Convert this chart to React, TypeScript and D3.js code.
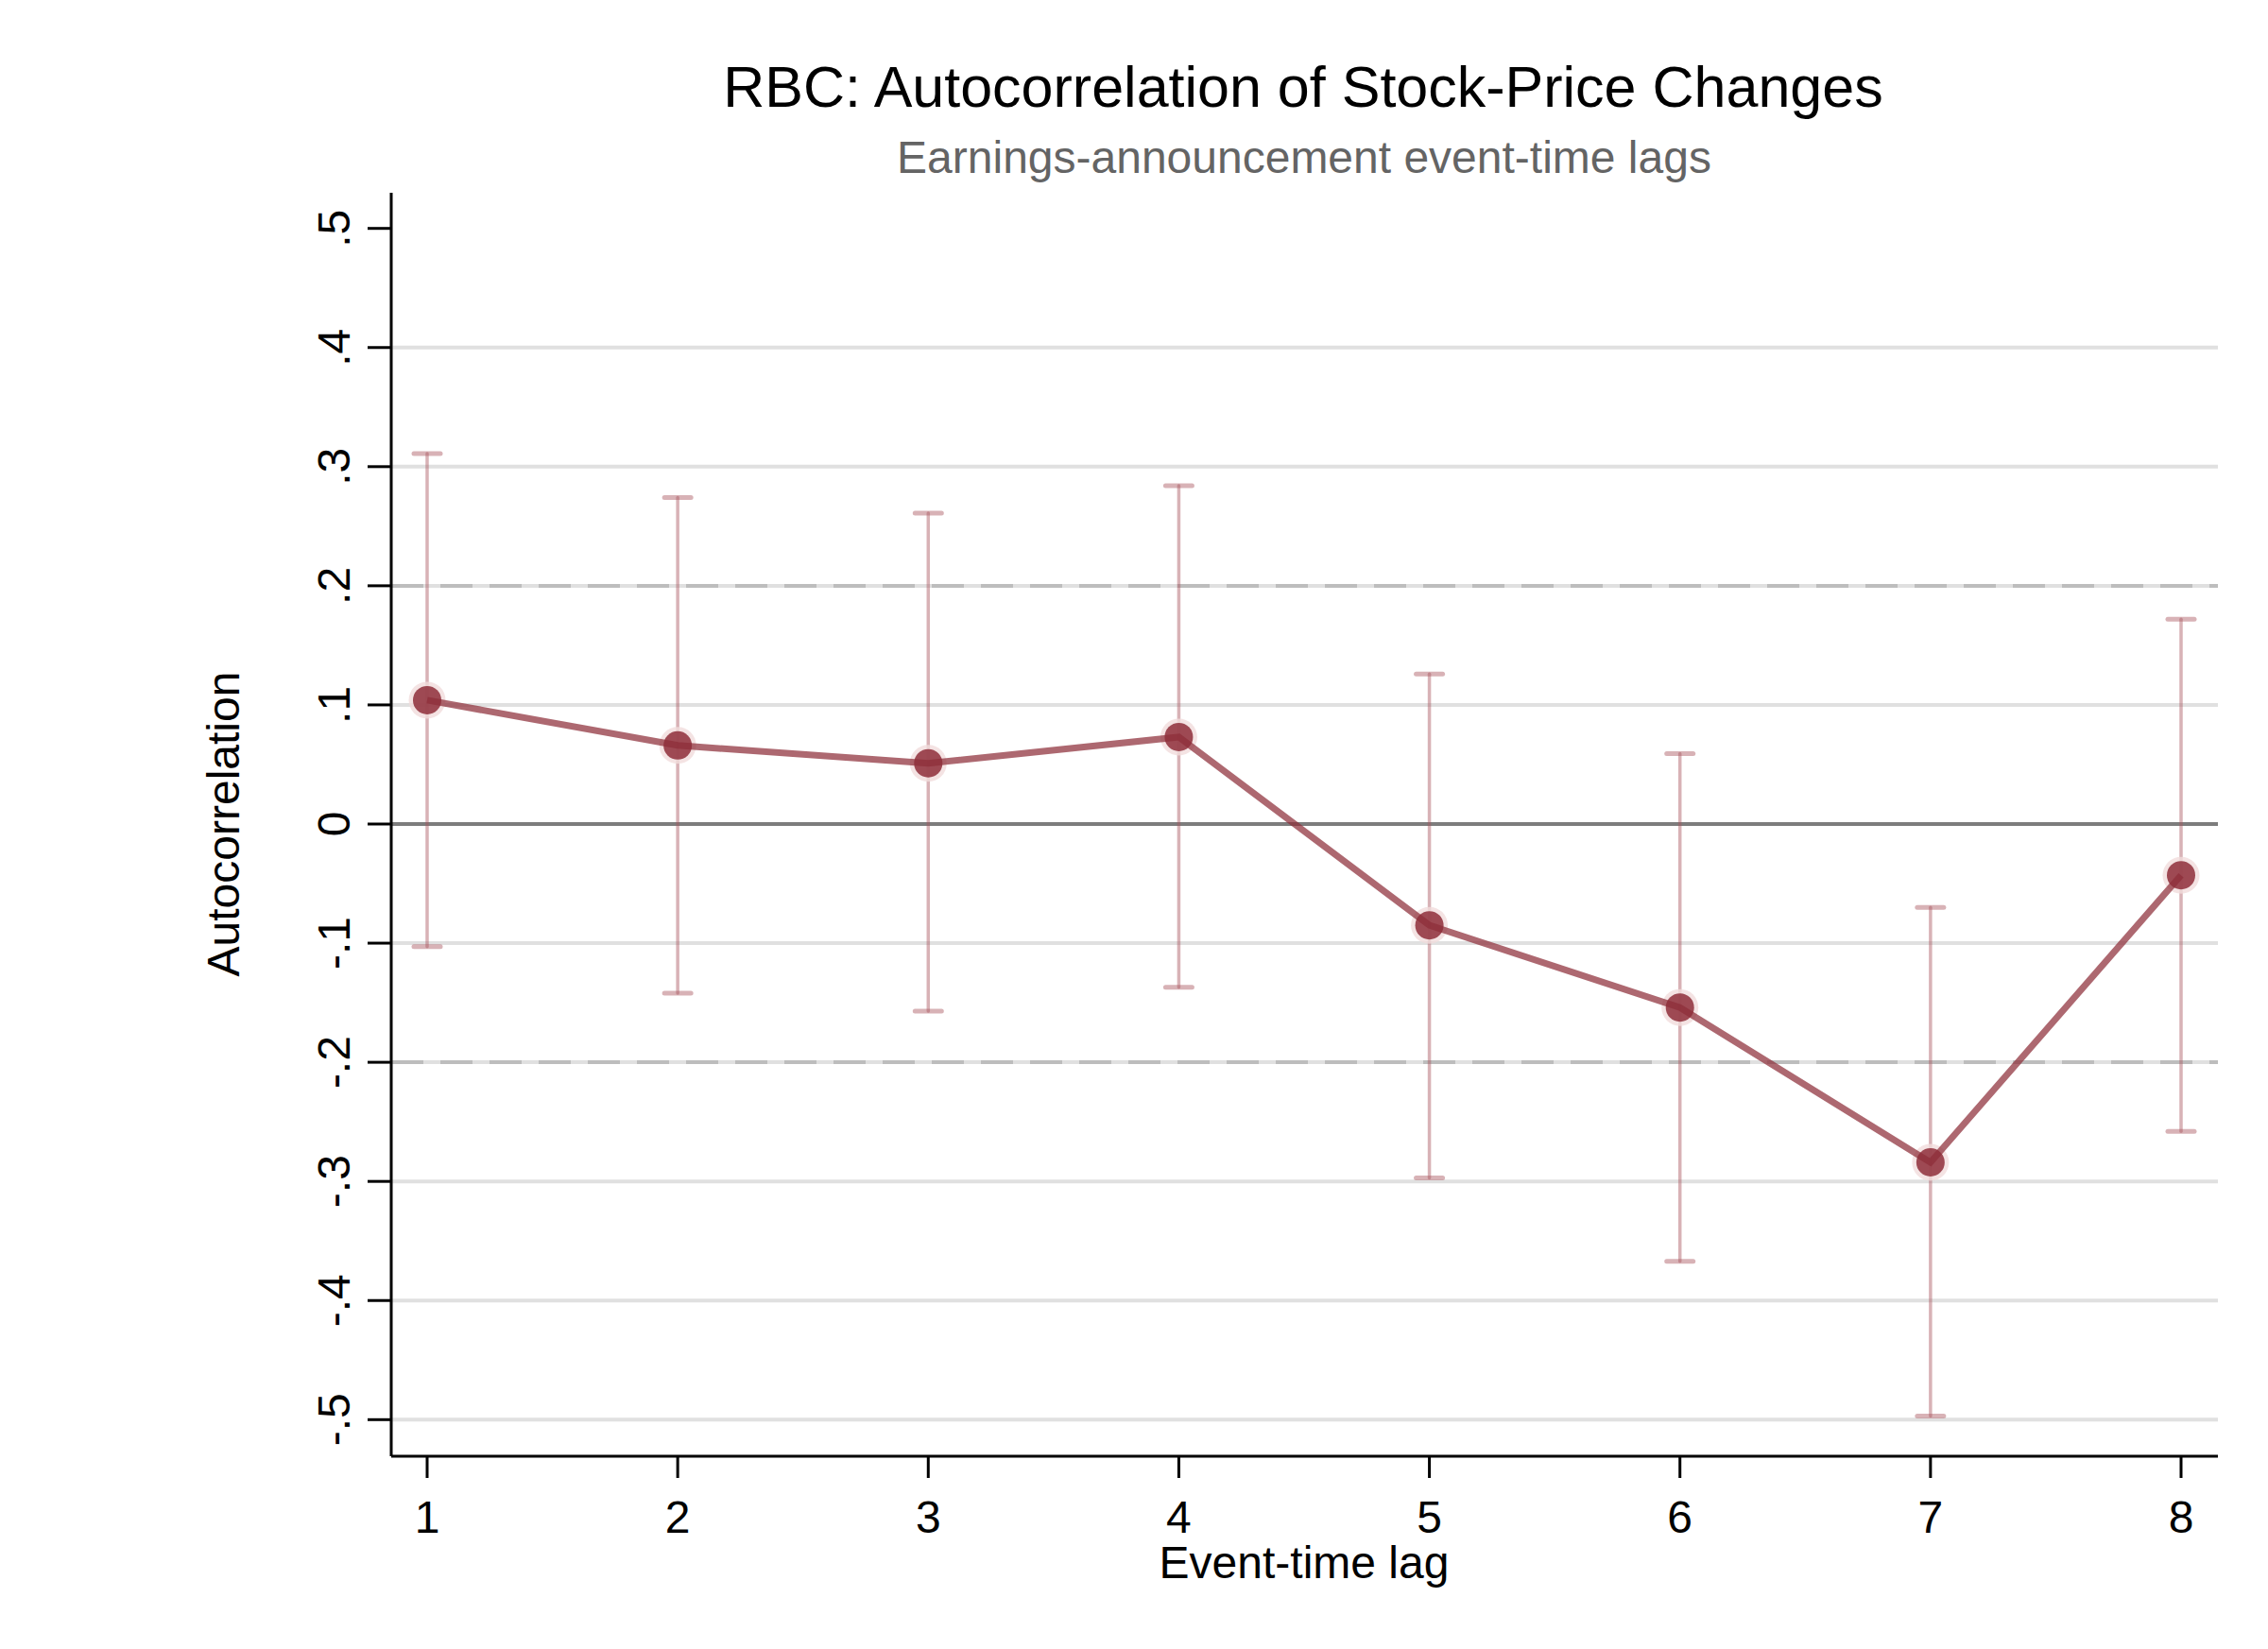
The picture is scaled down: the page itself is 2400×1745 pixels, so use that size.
import React, { useEffect } from 'react';
import * as d3 from 'd3';

// event-time lags and autocorrelation estimates
const lags = [1, 2, 3, 4, 5, 6, 7, 8];
const estimates = [0.104, 0.066, 0.051, 0.073, -0.085, -0.154, -0.284, -0.043];
const upperCI = [0.311, 0.274, 0.261, 0.284, 0.126, 0.059, -0.070, 0.172];
const lowerCI = [-0.103, -0.142, -0.157, -0.137, -0.297, -0.367, -0.497, -0.258];

const yTicks = [0.5, 0.4, 0.3, 0.2, 0.1, 0, -0.1, -0.2, -0.3, -0.4, -0.5];
const yTickLabels = ['.5', '.4', '.3', '.2', '.1', '0', '-.1', '-.2', '-.3', '-.4', '-.5'];
const gridValues = [0.4, 0.3, 0.2, 0.1, -0.1, -0.2, -0.3, -0.4, -0.5];
const refLines = [0.2, -0.2];

const W = 2400;
const H = 1745;
const FONT = '"Liberation Sans", Arial, Helvetica, sans-serif';

const plot = { left: 414, right: 2347, top: 204, bottom: 1541 };

export default function App() {
  useEffect(() => {
    document.body.style.margin = '0';
  }, []);

  const x = d3.scaleLinear().domain([1, 8]).range([452, 2308]);
  const y = d3.scaleLinear().domain([-0.5, 0.5]).range([1502.3, 241.7]);

  const pts = lags.map((l, i) => [l, estimates[i]] as [number, number]);
  const line = d3
    .line<[number, number]>()
    .x(d => x(d[0]))
    .y(d => y(d[1]));

  const barColor = '#a9545e';
  const mainColor = '#8e2e39';

  return (
    <svg width={W} height={H} style={{ display: 'block', background: '#fff' }}>
      {/* titles */}
      <text x={1379} y={113} textAnchor="middle" fontFamily={FONT} fontSize={61} fill="#000">
        RBC: Autocorrelation of Stock-Price Changes
      </text>
      <text x={1380} y={183} textAnchor="middle" fontFamily={FONT} fontSize={48} fill="#646464">
        Earnings-announcement event-time lags
      </text>

      {/* gridlines */}
      {gridValues.map(v => (
        <line key={'g' + v} x1={plot.left} x2={plot.right} y1={y(v)} y2={y(v)} stroke="#e0e0e0" strokeWidth={4} />
      ))}
      {refLines.map(v => (
        <line
          key={'r' + v}
          x1={plot.left}
          x2={plot.right}
          y1={y(v)}
          y2={y(v)}
          stroke="#bdbdbd"
          strokeWidth={4}
          strokeDasharray="34 18"
        />
      ))}
      <line x1={plot.left} x2={plot.right} y1={y(0)} y2={y(0)} stroke="#7d7d7d" strokeWidth={4} />

      {/* error bars */}
      {lags.map((l, i) => (
        <g key={'e' + l} stroke={barColor} strokeOpacity={0.45} strokeLinecap="round">
          <line x1={x(l)} x2={x(l)} y1={y(upperCI[i])} y2={y(lowerCI[i])} strokeWidth={3.5} />
          <line x1={x(l) - 14} x2={x(l) + 14} y1={y(upperCI[i])} y2={y(upperCI[i])} strokeWidth={5} />
          <line x1={x(l) - 14} x2={x(l) + 14} y1={y(lowerCI[i])} y2={y(lowerCI[i])} strokeWidth={5} />
        </g>
      ))}

      {/* markers */}
      {pts.map(d => (
        <g key={'m' + d[0]}>
          <circle cx={x(d[0])} cy={y(d[1])} r={19.5} fill="#f1dcdc" fillOpacity={0.8} />
          <circle cx={x(d[0])} cy={y(d[1])} r={15} fill={mainColor} fillOpacity={0.85} />
        </g>
      ))}

      {/* connecting line */}
      <path d={line(pts) || ''} fill="none" stroke={mainColor} strokeOpacity={0.72} strokeWidth={7} strokeLinejoin="miter" />

      {/* y axis */}
      <line x1={plot.left} x2={plot.left} y1={plot.top} y2={plot.bottom} stroke="#000" strokeWidth={3} />
      {yTicks.map((v, i) => (
        <g key={'yt' + v}>
          <line x1={389} x2={plot.left} y1={y(v)} y2={y(v)} stroke="#000" strokeWidth={3} />
          <text
            transform={`translate(370,${y(v)}) rotate(-90)`}
            textAnchor="middle"
            fontFamily={FONT}
            fontSize={48}
            fill="#000"
          >
            {yTickLabels[i]}
          </text>
        </g>
      ))}
      <text
        transform={`translate(253,872) rotate(-90)`}
        textAnchor="middle"
        fontFamily={FONT}
        fontSize={48}
        fill="#000"
      >
        Autocorrelation
      </text>

      {/* x axis */}
      <line x1={plot.left} x2={plot.right} y1={plot.bottom} y2={plot.bottom} stroke="#000" strokeWidth={3} />
      {lags.map(l => (
        <g key={'xt' + l}>
          <line x1={x(l)} x2={x(l)} y1={plot.bottom} y2={1564} stroke="#000" strokeWidth={3} />
          <text x={x(l)} y={1622} textAnchor="middle" fontFamily={FONT} fontSize={48} fill="#000">
            {l}
          </text>
        </g>
      ))}
      <text x={1380} y={1670} textAnchor="middle" fontFamily={FONT} fontSize={48} fill="#000">
        Event-time lag
      </text>
    </svg>
  );
}
